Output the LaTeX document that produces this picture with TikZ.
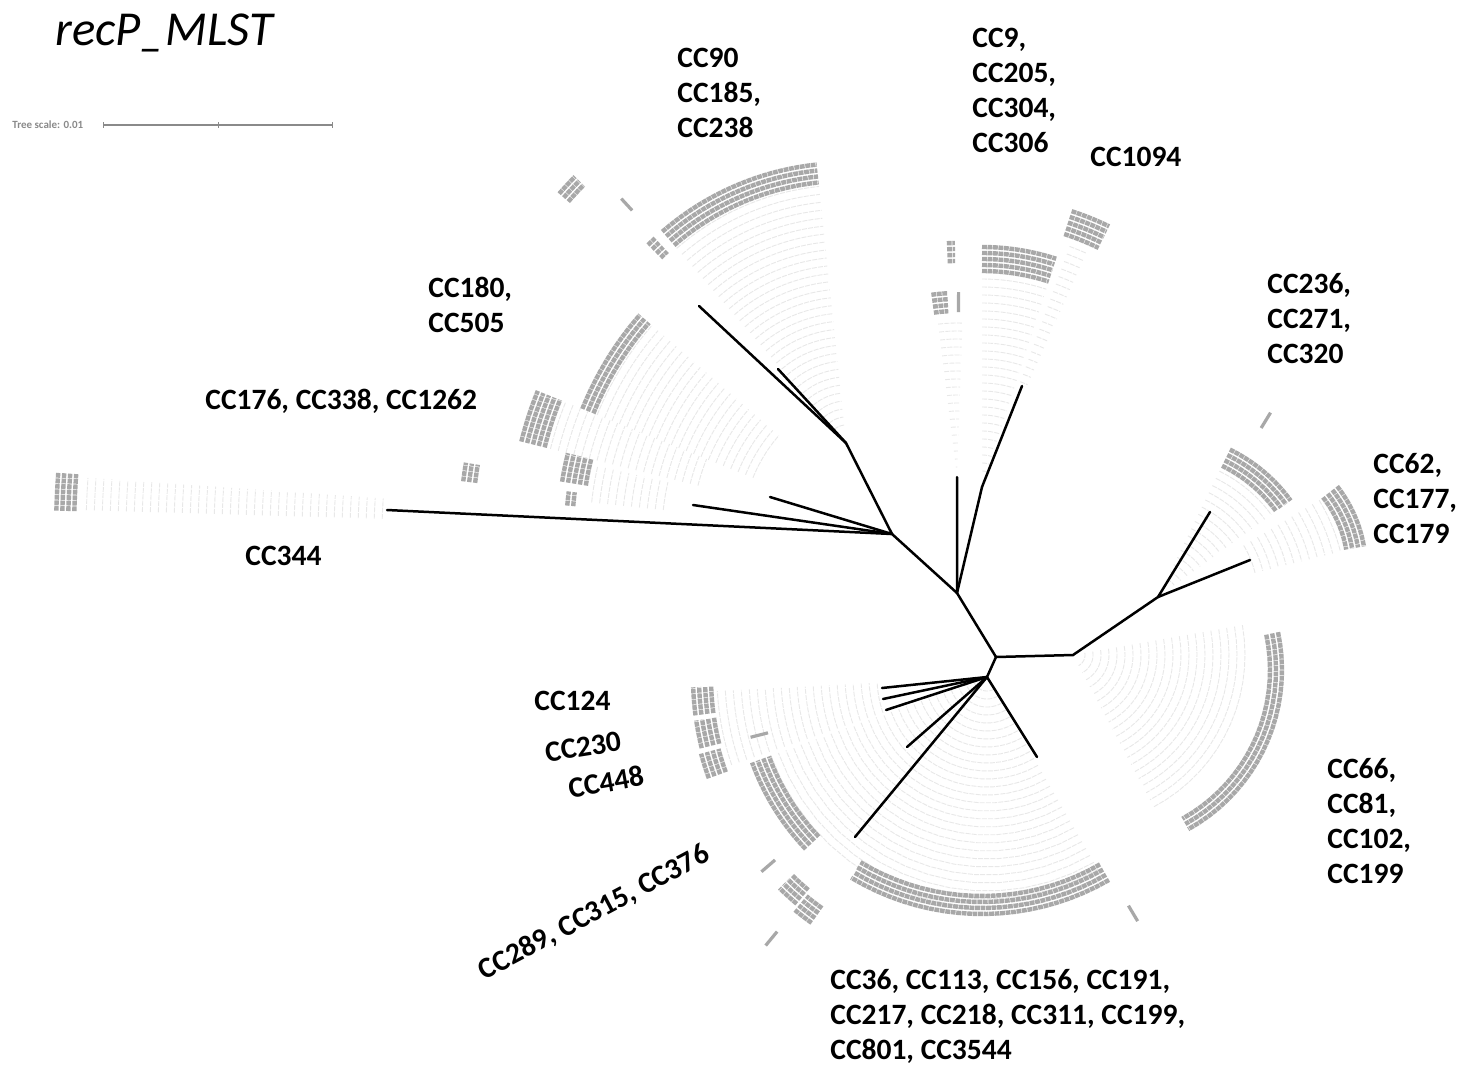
\documentclass[tikz,border=0pt]{standalone}
\usepackage{fontspec}
\setmainfont{Carlito}
\usetikzlibrary{positioning}
\definecolor{trband}{HTML}{A8A8A8}
\definecolor{trfaint}{HTML}{E8E8E8}
\definecolor{trscale}{HTML}{8A8A8A}

\begin{document}
\begin{tikzpicture}[
  x=0.5pt, y=-0.5pt,
  every node/.style={inner sep=0pt},
  cclabel/.style={font=\fontsize{14.75}{17.5}\selectfont\bfseries, align=left, anchor=west},
  titlelabel/.style={font=\fontsize{24.4}{28}\selectfont\itshape},
  scaletext/.style={font=\fontsize{5.5}{6}\selectfont\bfseries, text=trscale},
  branch/.style={line width=1.25pt, black, line cap=round},
  leafarc/.style={trfaint, line width=0.45pt, dash pattern=on 2.5pt off 0.6pt},
  labelband/.style={trband, line width=2.2pt, dash pattern=on 2.4pt off 0.35pt},
  labeldash/.style={trband, line width=1.6pt},
]
\useasboundingbox (0,0) rectangle (1463,1067);
\fill[white] (0,0) rectangle (1463,1067);

% faint leaf fans (center x/y, angles, radii)
\foreach \cx/\cy/\aa/\ab/\ra/\rb in {
  1073/655/-10/62/12/172,
  987/677/60/160/14/230,
  987/677/161/177/110/270,
  1158/597/-64/-36/20/142,
  1158/597/-31/-14/100/190,
  982/487/-90/-72/16/214,
  957/477/-97/-88/10/160,
  982/487/-70/-66/112/262,
  846/443/-131/-96/18/258,
  892/534/-158/-139/150/318,
  892/534/-166/-158/200/352,
  892/534/-174/-167/230/306,
  892/534/-178.3/-176/510/812}{
  \pgfmathtruncatemacro\rn{\ra+8}
  \foreach \r in {\ra,\rn,...,\rb}
    \draw[leafarc] plot[domain=\aa:\ab, samples=16, variable=\t] ({\cx+\r*cos(\t)},{\cy+\r*sin(\t)});
}

% label bands (center x/y, angles, inner radius, rows)
\foreach \cx/\cy/\aa/\ab/\rr/\nr in {
  1100/670/-12/61/164/3,
  982/660/60/121/230/4,
  987/677/136.5/160/226/4,
  1158/597/-64/-36/140/4,
  1230/570/-38/-10/112/4,
  982/487/-90/-72/210/5,
  982/487/-72/-64/260/5,
  846/443/-131/-96/256/4,
  846/443/-135/-133/256/4,
  846/443/-139/-135.5/362/3,
  892/534/-158/-139/316/3,
  892/534/-166/-158/352/5,
  892/534/-178.4/-175.8/812/4,
  892/534/-171/-166/304/5,
  892/534/-175/-172.5/314/2,
  892/534/-173/-170.5/414/3,
  987/677/172.5/178/270/4,
  987/677/166/171.5/270/4,
  987/677/160/165/272/4,
  987/677/130/134.5/272/4,
  987/677/125.5/129.5/278/4,
  957/477/-98/-93/160/4,
  957/477/-92.5/-90.5/210/4}{
  \foreach \k in {1,...,\nr}
    \draw[labelband] plot[domain=\aa:\ab, samples=20, variable=\t] ({\cx+(\rr+6*\k)*cos(\t)},{\cy+(\rr+6*\k)*sin(\t)});
}

% single leaf labels
\foreach \cx/\cy/\t/\ra/\rb in {
  846/443/-132.6/316/332,
  1158/597/-58.6/198/216,
  987/677/165.7/226/244,
  987/677/139.2/280/298,
  987/677/129.5/330/348,
  982/660/59.2/286/304,
  957/477/-89.5/165/185}
  \draw[labeldash] ({\cx+\ra*cos(\t)},{\cy+\ra*sin(\t)}) -- ({\cx+\rb*cos(\t)},{\cy+\rb*sin(\t)});

% tree nodes
\coordinate (root) at (996,657);
\coordinate (nE) at (987,677);
\coordinate (n66) at (1073,655);
\coordinate (nF) at (1158,597);
\coordinate (n236) at (1210,512);
\coordinate (n62) at (1250,560);
\coordinate (nB) at (957,593);
\coordinate (n9) at (957,477);
\coordinate (nB2) at (982,487);
\coordinate (n1094) at (1022,386);
\coordinate (nC) at (892,534);
\coordinate (n344) at (387,510);
\coordinate (n176) at (693,505);
\coordinate (nS) at (770,497);
\coordinate (nD) at (846,443);
\coordinate (n90) at (699,306);
\coordinate (n185) at (778,369);
\coordinate (n124) at (882,688);
\coordinate (n230) at (883,699);
\coordinate (n448) at (886,710);
\coordinate (nL) at (907,747);
\coordinate (n289) at (855,837);
\coordinate (n36) at (1037,757);

% branches
\draw[branch] (root) -- (n66) -- (nF) -- (n236);
\draw[branch] (nF) -- (n62);
\draw[branch] (root) -- (nB) -- (n9);
\draw[branch] (nB) -- (nB2) -- (n1094);
\draw[branch] (nB) -- (nC) -- (n344);
\draw[branch] (nC) -- (n176);
\draw[branch] (nC) -- (nS);
\draw[branch] (nC) -- (nD) -- (n90);
\draw[branch] (nD) -- (n185);
\draw[branch] (root) -- (nE);
\foreach \leaf in {n124,n230,n448,nL,n289,n36}
  \draw[branch] (nE) -- (\leaf);

% title and scale
\node[titlelabel, anchor=base west] (title) at (55,45) {recP\_MLST};
\node[scaletext, anchor=west] (scalelbl) at (12,125) {Tree scale: 0.01};
\coordinate (scaleA) at (103,125);
\coordinate (scaleM) at (218,125);
\coordinate (scaleB) at (332,125);
\draw[trscale, line width=0.6pt] (scaleA) -- (scaleB);
\foreach \tick in {scaleA,scaleM,scaleB}
  \draw[trscale, line width=0.5pt] (\tick) ++(0,-3) -- ++(0,6);

% clade labels
\node[cclabel] (lab90) at (677,93) {CC90\\CC185,\\CC238};
\node[cclabel] (lab9) at (972,90.5) {CC9,\\CC205,\\CC304,\\CC306};
\node[cclabel] (lab1094) at (1090,157) {CC1094};
\node[cclabel] (lab180) at (428,304.5) {CC180,\\CC505};
\node[cclabel] (lab176) at (205,401) {CC176, CC338, CC1262};
\node[cclabel] (lab236) at (1267,319) {CC236,\\CC271,\\CC320};
\node[cclabel] (lab62) at (1373,499) {CC62,\\CC177,\\CC179};
\node[cclabel] (lab344) at (245,556) {CC344};
\node[cclabel] (lab124) at (534,701) {CC124};
\node[cclabel, anchor=center, rotate=9] (lab230) at (583,747) {CC230};
\node[cclabel, anchor=center, rotate=10] (lab448) at (606,782) {CC448};
\node[cclabel, anchor=center, rotate=28] (lab289) at (594,913) {CC289, CC315, CC376};
\node[cclabel] (lab66) at (1327,821.5) {CC66,\\CC81,\\CC102,\\CC199};
\node[cclabel] (lab36) at (830,1016) {CC36, CC113, CC156, CC191,\\CC217, CC218, CC311, CC199,\\CC801, CC3544};

\end{tikzpicture}
\end{document}
